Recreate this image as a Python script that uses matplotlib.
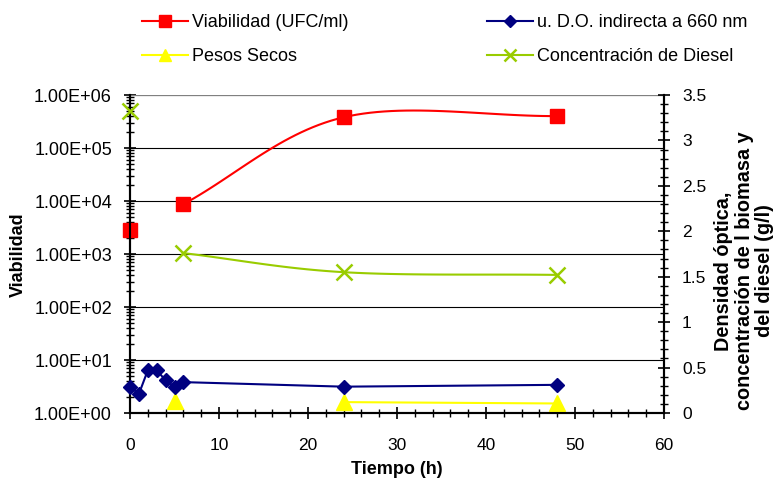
import numpy as np
import matplotlib.pyplot as plt
from matplotlib.ticker import FixedLocator, LogLocator, MultipleLocator, FuncFormatter
from matplotlib.lines import Line2D

plt.rcParams['font.family'] = ['Liberation Sans', 'DejaVu Sans']

# datos
t_viab = [0, 6, 24, 48]
viabilidad = [2800, 8700, 3.8e5, 4.0e5]

t_do = [0, 1, 2, 3, 4, 5, 6, 24, 48]
do_660 = [0.29, 0.21, 0.47, 0.47, 0.36, 0.29, 0.34, 0.29, 0.31]

t_pesos = [5, 24, 48]
pesos = [0.13, 0.12, 0.105]

t_diesel = [0, 6, 24, 48]
diesel = [3.32, 1.76, 1.55, 1.52]

x_ticks = [0, 10, 20, 30, 40, 50, 60]
right_ticks = [0, 0.5, 1, 1.5, 2, 2.5, 3, 3.5]


def suave(x, y, n=30, log=False):
    # curva suavizada tipo Catmull-Rom (como la linea suavizada de Excel)
    x = np.asarray(x, float)
    y = np.asarray(y, float)
    if log:
        y = np.log10(y)
    px = np.concatenate([[2 * x[0] - x[1]], x, [2 * x[-1] - x[-2]]])
    py = np.concatenate([[2 * y[0] - y[1]], y, [2 * y[-1] - y[-2]]])
    xs, ys = [], []
    s = np.linspace(0, 1, n)
    for i in range(1, len(px) - 2):
        p0, p1, p2, p3 = [np.array([px[j], py[j]]) for j in range(i - 1, i + 3)]
        c1 = p1 + (p2 - p0) / 6
        c2 = p2 - (p3 - p1) / 6
        pts = ((1 - s) ** 3)[:, None] * p1 + (3 * (1 - s) ** 2 * s)[:, None] * c1 \
            + (3 * (1 - s) * s ** 2)[:, None] * c2 + (s ** 3)[:, None] * p2
        xs.extend(pts[:, 0])
        ys.extend(pts[:, 1])
    ys = np.array(ys)
    if log:
        ys = 10 ** ys
    return np.array(xs), ys


fig = plt.figure(figsize=(7.78, 4.83), dpi=100)
ax = fig.add_axes([0.1671, 0.1449, 0.6864, 0.6584])
ax2 = ax.twinx()

rojo = '#ff0000'
azul = '#000080'
amarillo = '#ffff00'
verde = '#99cc00'

# Viabilidad (eje izquierdo, log)
xv, yv = suave(t_viab[1:], viabilidad[1:], log=True)
ax.plot(xv, yv, color=rojo, lw=1.5, zorder=3)
ax.plot(t_viab, viabilidad, ls='none', marker='s', ms=10, color=rojo, zorder=4, clip_on=False)

# eje derecho
ax2.plot(t_do, do_660, color=azul, lw=1.5, marker='D', ms=7.5, zorder=3, clip_on=False)
ax2.plot(t_pesos[1:], pesos[1:], color=amarillo, lw=1.5, zorder=3)
ax2.plot(t_pesos, pesos, ls='none', marker='^', ms=11, color=amarillo, zorder=2, clip_on=False)
xd, yd = suave(t_diesel[1:], diesel[1:])
ax2.plot(xd, yd, color=verde, lw=1.5, zorder=3)
ax2.plot(t_diesel, diesel, ls='none', marker='x', ms=12, mew=1.8, color=verde, zorder=4, clip_on=False)

ax.set_yscale('log')
ax.set_ylim(1, 1e6)
ax.set_xlim(0, 60)
ax2.set_ylim(0, 3.5)

ax.xaxis.set_major_locator(FixedLocator(x_ticks))
ax.xaxis.set_minor_locator(MultipleLocator(2))
ax.yaxis.set_major_locator(LogLocator(base=10, numticks=10))
ax.yaxis.set_minor_locator(LogLocator(base=10, subs=np.arange(2, 10), numticks=20))
ax.yaxis.set_major_formatter(FuncFormatter(lambda v, p: '%.2E' % v))
ax.yaxis.set_minor_formatter(FuncFormatter(lambda v, p: ''))
ax2.yaxis.set_major_locator(FixedLocator(right_ticks))
ax2.yaxis.set_minor_locator(MultipleLocator(0.1))
ax2.yaxis.set_major_formatter(FuncFormatter(lambda v, p: '%g' % v))

for a in (ax, ax2):
    a.tick_params(which='major', direction='inout', length=8, width=1.2, color='black')
    a.tick_params(which='minor', direction='inout', length=6, width=1.0, color='black')
    a.spines['top'].set_visible(False)
    for sp in ('left', 'right', 'bottom'):
        a.spines[sp].set_linewidth(1.5)
ax.tick_params(axis='y', which='major', labelsize=13, pad=9)
ax.tick_params(axis='x', which='major', labelsize=12.5, pad=14)
ax2.tick_params(axis='y', which='major', labelsize=12.5, pad=9)

ax.grid(axis='y', which='major', color='black', lw=0.8)
ax.set_axisbelow(True)
ax.axhline(1e6, color='#808080', lw=1.5, zorder=1)

# titulos de ejes
fig.text(18 / 778, 1 - 255 / 483, 'Viabilidad', rotation=90, ha='center', va='center',
         fontsize=13, fontweight='bold')
fig.text(397 / 778, 1 - 470 / 483, 'Tiempo (h)', ha='center', va='center',
         fontsize=13, fontweight='bold')
fig.text(744 / 778, 1 - 271 / 483, 'Densidad óptica,\nconcentración de l biomasa y\ndel diesel (g/l)',
         rotation=90, ha='center', va='center', ma='center', fontsize=14.3,
         fontweight='bold', linespacing=1.08)

handles = [
    Line2D([], [], color=rojo, lw=1.5, marker='s', ms=8),
    Line2D([], [], color=amarillo, lw=1.5, marker='^', ms=9),
    Line2D([], [], color=azul, lw=1.5, marker='D', ms=6.5),
    Line2D([], [], color=verde, lw=1.5, marker='x', ms=9, mew=1.8),
]
labels = ['Viabilidad (UFC/ml)', 'Pesos Secos', 'u. D.O. indirecta a 660 nm', 'Concentración de Diesel']
fig.legend(handles, labels, ncol=2, loc='upper left', bbox_to_anchor=(142 / 778, 1 - 14 / 483),
           frameon=False, fontsize=13, columnspacing=7.7, handlelength=2.55,
           handletextpad=0.2, labelspacing=0.95, borderpad=0, borderaxespad=0)

fig.savefig('out.png', dpi=100)
